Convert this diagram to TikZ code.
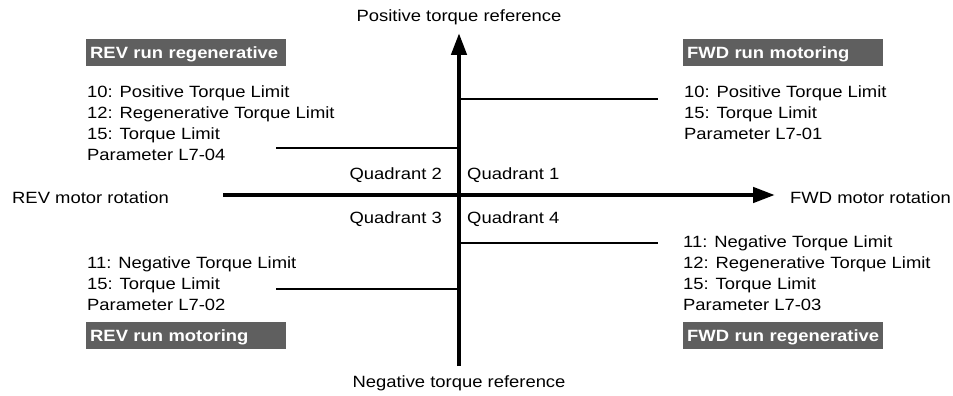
\documentclass[tikz,border=0pt]{standalone}
\usepackage{fontspec}
\setmainfont{Liberation Sans}[FakeStretch=1.13]
\definecolor{labelgray}{RGB}{95,95,95}
\usetikzlibrary{arrows.meta,positioning}

\begin{document}
\begin{tikzpicture}[x=1pt,y=-1pt,
    txt/.style={inner sep=0pt, font=\fontsize{16.3}{21.2}\selectfont},
    block/.style={txt, align=left, anchor=north west},
    runbox/.style={fill=labelgray, text=white, inner xsep=0pt, inner ysep=0pt,
        text width=200pt, align=left, minimum height=27pt, text height=11.7pt, text depth=0pt,
        execute at begin node={\hspace*{4pt}},
        font=\fontsize{16.3}{20}\selectfont\bfseries, anchor=north west},
    axis/.style={line width=4.5pt, -{Triangle[length=22pt,width=15pt]}},
    limit/.style={line width=2.2pt}]

\useasboundingbox (0,0) rectangle (953,396);

% axes
\coordinate (origin) at (459,195);
\coordinate (revend) at (223,195);
\coordinate (fwdtip) at (775,195);
\coordinate (negend) at (459,366);
\coordinate (postip) at (459,33);

% limit lines
\coordinate (q1end) at (658,99);
\coordinate (q2end) at (276,148);
\coordinate (q3end) at (276,289);
\coordinate (q4end) at (658,243);
\draw[limit] (q1end -| origin) -- (q1end);
\draw[limit] (q2end -| origin) -- (q2end);
\draw[limit] (q3end -| origin) -- (q3end);
\draw[limit] (q4end -| origin) -- (q4end);

\draw[axis] (revend) -- (fwdtip);
\draw[axis] (negend) -- (postip);

% axis labels
\node[txt, anchor=base] (posref) at (459,22) {Positive torque reference};
\node[txt, anchor=base] (negref) at (459,387) {Negative torque reference};
\node[txt, anchor=base west] (revrot) at (12,203) {REV motor rotation};
\node[txt, anchor=base west] (fwdrot) at (790,203) {FWD motor rotation};

% quadrants
\node[txt, anchor=base west] (quad1) at (467,179) {Quadrant 1};
\node[txt, anchor=base east] (quad2) at (442,179) {Quadrant 2};
\node[txt, anchor=base east] (quad3) at (442,223) {Quadrant 3};
\node[txt, anchor=base west] (quad4) at (467,223) {Quadrant 4};

% run mode labels
\node[runbox] (revregen) at (86,39) {REV run regenerative};
\node[runbox] (fwdmotor) at (683,39) {FWD run motoring};
\node[runbox] (revmotor) at (86,322) {REV run motoring};
\node[runbox] (fwdregen) at (683,322) {FWD run regenerative};

% torque limit settings
\node[block] (q2text) at (87,85) {10: Positive Torque Limit\\12: Regenerative Torque Limit\\15: Torque Limit\\Parameter L7-04};
\node[block] (q1text) at (684,85) {10: Positive Torque Limit\\15: Torque Limit\\Parameter L7-01};
\node[block] (q3text) at (87,256) {11: Negative Torque Limit\\15: Torque Limit\\Parameter L7-02};
\node[block] (q4text) at (683,235) {11: Negative Torque Limit\\12: Regenerative Torque Limit\\15: Torque Limit\\Parameter L7-03};
\end{tikzpicture}
\end{document}
